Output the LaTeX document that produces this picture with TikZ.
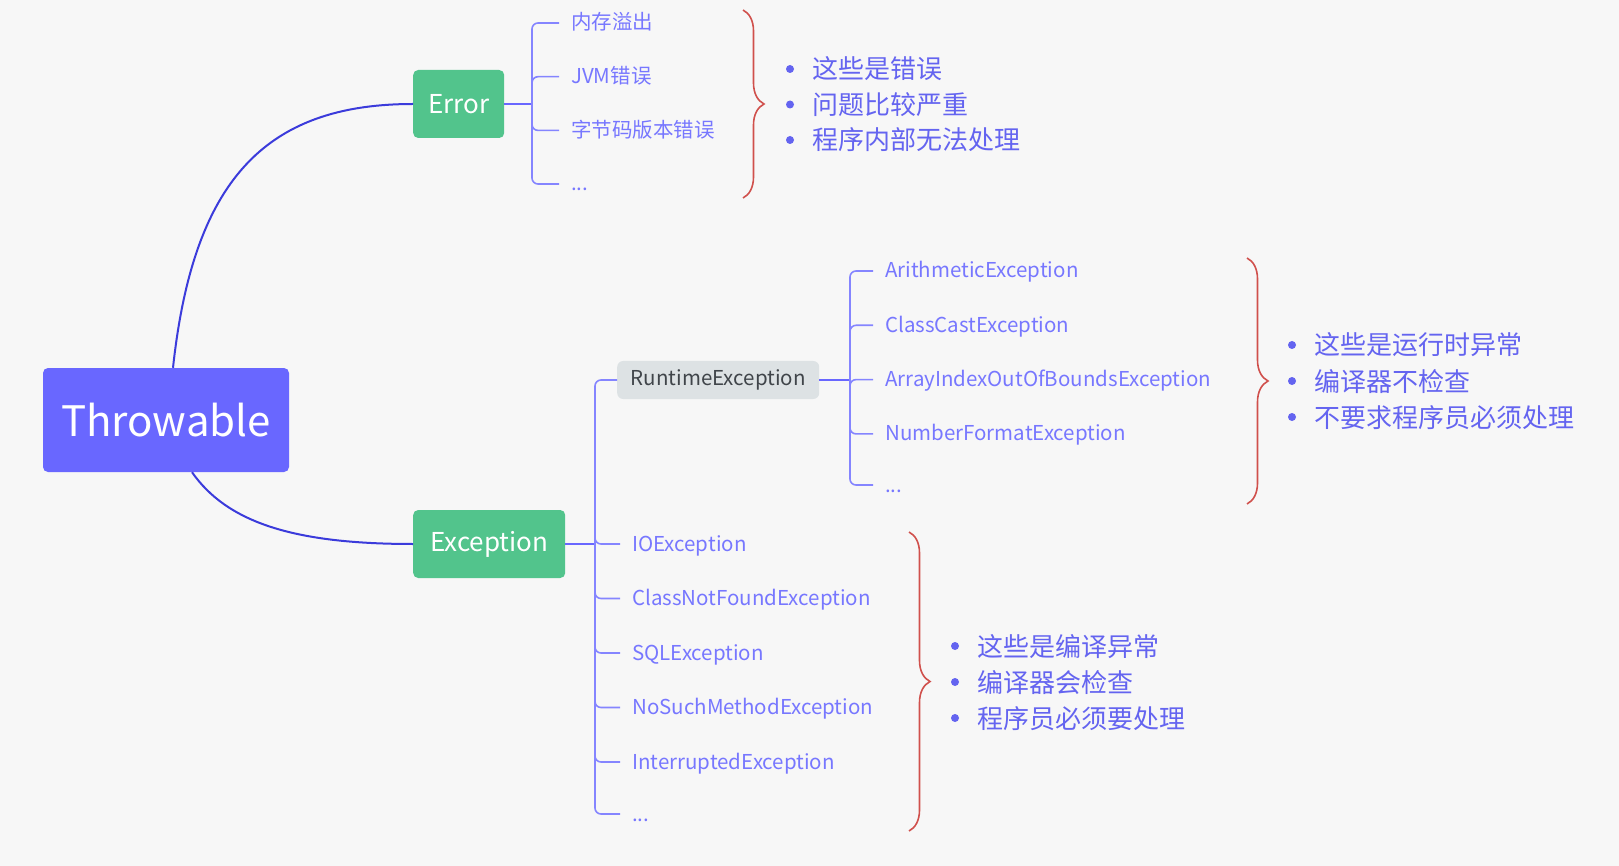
\documentclass[tikz,border=0pt]{standalone}
\usepackage{fontspec}
\setmainfont{Noto Sans CJK SC}
\usetikzlibrary{decorations.pathreplacing}
\definecolor{bgcol}{HTML}{F7F7F7}
\definecolor{rootcol}{HTML}{6967FF}
\definecolor{maincol}{HTML}{52C48C}
\definecolor{rtcol}{HTML}{DDE2E4}
\definecolor{rttext}{HTML}{40454A}
\definecolor{leafcol}{HTML}{7777FF}
\definecolor{notecol}{HTML}{6464F0}
\definecolor{linecol}{HTML}{8585FF}
\definecolor{curvecol}{HTML}{3B3BDB}
\definecolor{bracecol}{HTML}{D0504C}

\begin{document}
\begin{tikzpicture}
[x=1pt,y=-1pt,
%%%%%%%%%%%%%%%%%%%%%%%%%%%%%%
root/.style={rectangle,rounded corners=5pt,fill=rootcol,text=white,minimum width=246pt,minimum height=104pt,font=\fontsize{42}{48}\selectfont},
main/.style={rectangle,rounded corners=5pt,fill=maincol,text=white,anchor=west,minimum height=68pt,font=\fontsize{26}{30}\selectfont},
rtbox/.style={rectangle,rounded corners=6pt,fill=rtcol,text=rttext,anchor=west,minimum width=202pt,minimum height=38pt,font=\fontsize{20.5}{24}\selectfont},
leaf/.style={anchor=west,inner xsep=12pt,inner ysep=0pt,text height=15pt,text depth=1pt,text=leafcol,font=\fontsize{20.5}{24}\selectfont},
note/.style={anchor=west,inner sep=0pt,text height=21pt,text depth=1pt,text=notecol,font=\fontsize{26}{30}\selectfont},
curve/.style={draw=curvecol,line width=2pt},
link/.style={draw=rootcol,line width=2pt},
branch/.style={draw=linecol,line width=1.6pt,rounded corners=6pt},
rbrace/.style={draw=bracecol,line width=1.6pt,decorate,decoration={brace,amplitude=21pt}},
]%%%%%%%%%%%%%%%%%%%%%%%%%%%%%%

\fill[bgcol] (0,0) rectangle (1619,866);
\useasboundingbox (0,0) rectangle (1619,866);

\node[root] (thr) at (166,420) {Throwable};
\node[main,minimum width=91pt] (err) at (413,104) {Error};
\node[main,minimum width=152pt] (exc) at (413,544) {Exception};

\draw[curve] ([xshift=7pt]thr.north) .. controls +(20,-185) and +(-150,0) .. (err.west);
\draw[curve] ([xshift=26pt]thr.south) .. controls +(35,50) and +(-120,0) .. (exc.west);

% Error
\coordinate (ej) at (532,104);
\draw[link] (err.east) -- (ej);
\foreach \t [count=\i] in {内存溢出,JVM错误,字节码版本错误}
  \node[leaf] (e\i) at (559,{23+53.7*(\i-1)}) {\t};
\node[leaf] (e4) at (559,184) {...};
\foreach \i in {1,...,4}
  \draw[branch] (ej) |- (e\i.west);

\draw[rbrace] (743,10) -- (743,198);
\foreach \t [count=\i] in {这些是错误,问题比较严重,程序内部无法处理}{
  \node[note] (ea\i) at (812,{69+35.5*(\i-1)}) {\t};
  \fill[notecol] ([xshift=-22pt]ea\i.west) circle (4pt);
}

% Exception
\coordinate (xj) at (595,544);
\draw[link] (exc.east) -- (xj);
\node[rtbox] (rt) at (617,380) {RuntimeException};
\draw[branch] (xj) |- (rt.west);
\foreach \t [count=\i] in {IOException,ClassNotFoundException,SQLException,NoSuchMethodException,InterruptedException}
  \node[leaf] (x\i) at (620,{544+54.5*(\i-1)}) {\t};
\node[leaf] (x6) at (620,814) {...};
\foreach \i in {1,...,6}
  \draw[branch] (xj) |- (x\i.west);

\draw[rbrace] (909,532) -- (909,831);
\foreach \t [count=\i] in {这些是编译异常,编译器会检查,程序员必须要处理}{
  \node[note] (xa\i) at (977,{646+36*(\i-1)}) {\t};
  \fill[notecol] ([xshift=-22pt]xa\i.west) circle (4pt);
}

% RuntimeException
\coordinate (rj) at (850,380);
\draw[link] (rt.east) -- (rj);
\foreach \t [count=\i] in {ArithmeticException,ClassCastException,ArrayIndexOutOfBoundsException,NumberFormatException}
  \node[leaf] (r\i) at (873,{271+54.3*(\i-1)}) {\t};
\node[leaf] (r5) at (873,485) {...};
\foreach \i in {1,...,5}
  \draw[branch] (rj) |- (r\i.west);

\draw[rbrace] (1247,258) -- (1247,504);
\foreach \t [count=\i] in {这些是运行时异常,编译器不检查,不要求程序员必须处理}{
  \node[note] (ra\i) at (1314,{345+36*(\i-1)}) {\t};
  \fill[notecol] ([xshift=-22pt]ra\i.west) circle (4pt);
}
\end{tikzpicture}
\end{document}
